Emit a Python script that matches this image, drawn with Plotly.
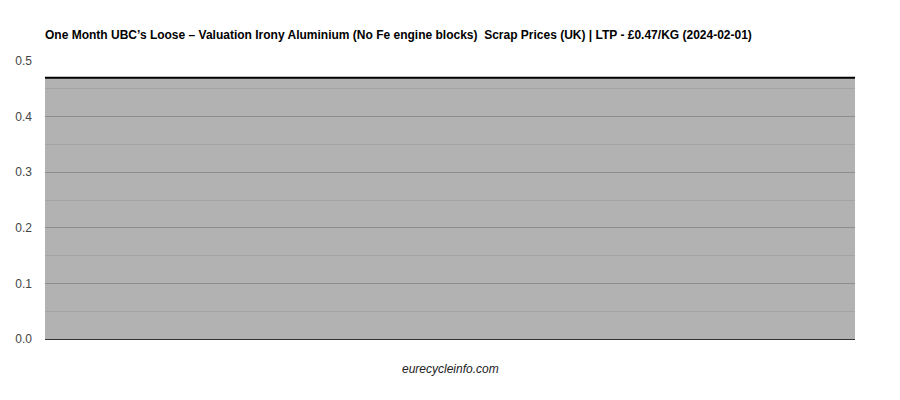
import plotly.graph_objects as go

# one month of LTP readings (x labels hidden in the reference)
dates = [
    "2024-01-04",
    "2024-01-08",
    "2024-01-11",
    "2024-01-15",
    "2024-01-18",
    "2024-01-22",
    "2024-01-25",
    "2024-01-29",
    "2024-02-01",
]
prices = [0.47, 0.47, 0.47, 0.47, 0.47, 0.47, 0.47, 0.47, 0.47]

title_text = (
    "One Month UBC\u2019s Loose \u2013 Valuation Irony Aluminium (No Fe engine blocks)"
    "  Scrap Prices (UK) | LTP - \u00a30.47/KG (2024-02-01)"
)
font_family = "Arial, Liberation Sans, sans-serif"

# the page body adds an 8px offset, so margins are shifted to compensate
fig = go.Figure()

fig.add_trace(
    go.Scatter(
        x=dates,
        y=prices,
        mode="lines",
        line={"color": "#000000", "width": 2},
        fill="tozeroy",
        fillcolor="rgba(0,0,0,0.3)",
        hoverinfo="skip",
        showlegend=False,
    )
)

fig.update_layout(
    width=900,
    height=400,
    margin={"l": 37, "r": 53, "t": 53, "b": 69},
    paper_bgcolor="white",
    plot_bgcolor="white",
    font={"family": font_family, "size": 12, "color": "#444444"},
    title={
        "text": f"<b>{title_text}</b>",
        "x": 37 / 900,
        "xanchor": "left",
        "xref": "container",
        "y": 1 - 27 / 400,
        "yanchor": "middle",
        "yref": "container",
        "font": {"family": font_family, "size": 12, "color": "#000000"},
    },
    xaxis={
        "type": "category",
        "range": [0, len(dates) - 1],
        "automargin": False,
        "showticklabels": False,
        "showgrid": False,
        "zeroline": False,
        "showline": True,
        "linecolor": "#333333",
        "linewidth": 1,
        "ticks": "",
    },
    yaxis={
        "range": [0, 0.5],
        "dtick": 0.1,
        "tickformat": ".1f",
        "automargin": False,
        "showgrid": True,
        "gridcolor": "#cccccc",
        "gridwidth": 1,
        "zeroline": False,
        "showline": False,
        "ticks": "",
        "ticklabelstandoff": 12,
        "tickfont": {"family": font_family, "size": 12, "color": "#444444"},
        "minor": {"dtick": 0.05, "showgrid": True, "gridcolor": "#ebebeb", "gridwidth": 1},
    },
    annotations=[
        {
            "text": "<i>eurecycleinfo.com</i>",
            "xref": "paper",
            "yref": "paper",
            "x": 0.5,
            "y": -30 / 278,
            "xanchor": "center",
            "yanchor": "middle",
            "showarrow": False,
            "font": {"family": font_family, "size": 12, "color": "#222222"},
        }
    ],
)

fig.write_html("out.html")
